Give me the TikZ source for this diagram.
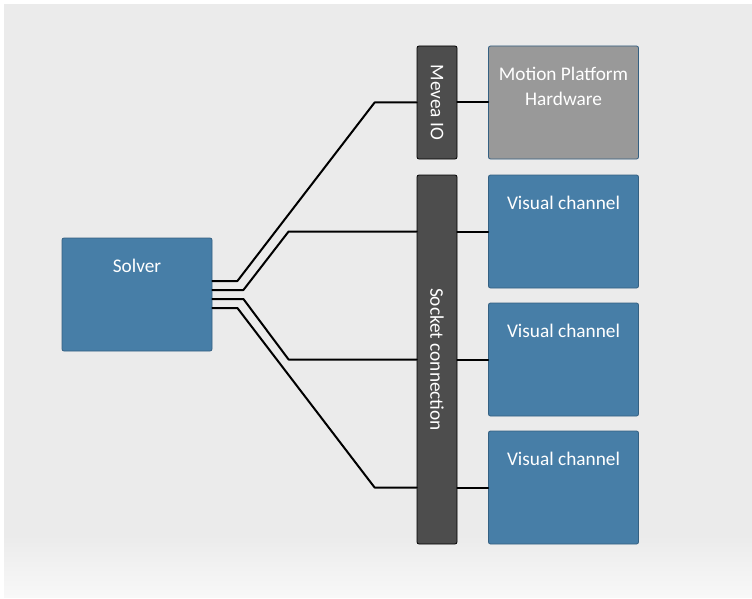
\documentclass[tikz,border=0pt]{standalone}
\usepackage{fontspec}
\setmainfont{Carlito}
\usetikzlibrary{calc,positioning}
\definecolor{bggray}{RGB}{235,235,235}
\definecolor{bgfade}{RGB}{248,248,248}
\definecolor{boxblue}{RGB}{71,126,167}
\definecolor{boxblueline}{RGB}{52,96,130}
\definecolor{iogray}{RGB}{77,77,77}
\definecolor{hwgray}{RGB}{153,153,153}
\begin{document}
\begin{tikzpicture}[x=1pt, y=-1pt, line join=round, line cap=round,
    blockbox/.style={draw=boxblueline, fill=boxblue, line width=.8pt, rounded corners=2pt,
      minimum width=150pt, minimum height=113pt, inner sep=0pt},
    hwbox/.style={blockbox, fill=hwgray},
    iobar/.style={draw=black, fill=iogray, line width=.8pt, rounded corners=2pt,
      minimum width=40pt, inner sep=0pt},
    boxtext/.style={text=white, anchor=base, align=center, inner sep=0pt,
      font=\fontsize{19.3}{25}\selectfont},
    bartext/.style={text=white, rotate=-90, inner sep=0pt, font=\fontsize{19.3}{23}\selectfont},
    wire/.style={draw=black, line width=2pt}]
  \useasboundingbox (0,0) rectangle (752,599);
  % background
  \fill[bggray] (4,4) rectangle (752,535);
  \shade[top color=bggray, bottom color=bgfade] (4,535) rectangle (752,597);
  % blocks
  \node[blockbox] (solver) at (137,294.5) {};
  \node[iobar, minimum height=113pt] (mevea) at (437,102.5) {};
  \node[iobar, minimum height=369pt] (socket) at (437,359.5) {};
  \node[hwbox] (hw) at (563.5,102.5) {};
  \foreach \i/\y in {1/231.5,2/359.5,3/487.5}
    \node[blockbox] (vc\i) at (563.5,\y) {};
  % texts
  \node[boxtext] (solver-text) at ($(solver.north)+(0,35)$) {Solver};
  \node[boxtext] (hw-text) at ($(hw.north)+(0,60)$) {Motion Platform\\Hardware};
  \foreach \i in {1,2,3}
    \node[boxtext] (vc\i-text) at ($(vc\i.north)+(0,35)$) {Visual channel};
  \node[bartext] (mevea-text) at (mevea.center) {Mevea IO};
  \node[bartext] (socket-text) at (socket.center) {Socket connection};
  % connections
  \draw[wire] ($(solver.east)+(0,-13.5)$) -- ++(25,0) -- ($(mevea.west)+(-42,0)$) -- (mevea.west);
  \draw[wire] ($(solver.east)+(0,-4.5)$) -- ++(31,0) -- ($(socket.west |- vc1.west)+(-128,0)$) -- (socket.west |- vc1.west);
  \draw[wire] ($(solver.east)+(0,4.5)$) -- ++(31,0) -- ($(socket.west |- vc2.west)+(-128,0)$) -- (socket.west |- vc2.west);
  \draw[wire] ($(solver.east)+(0,13.5)$) -- ++(25,0) -- ($(socket.west |- vc3.west)+(-42,0)$) -- (socket.west |- vc3.west);
  \draw[wire] (mevea.east) -- (hw.west);
  \foreach \i in {1,2,3}
    \draw[wire] (socket.east |- vc\i.west) -- (vc\i.west);
\end{tikzpicture}
\end{document}
